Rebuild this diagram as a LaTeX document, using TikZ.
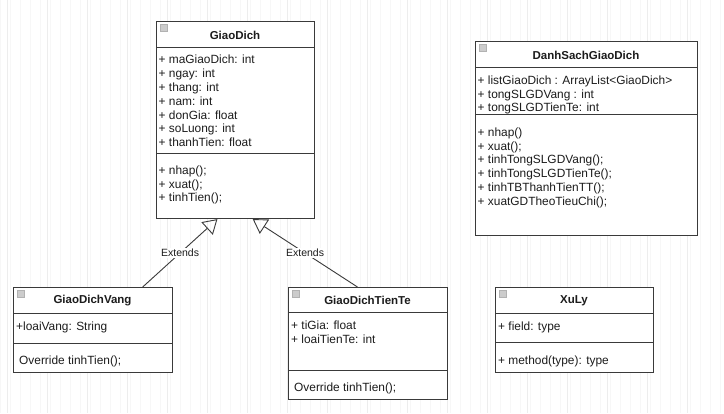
\documentclass[tikz,border=0pt]{standalone}
\usepackage{fontspec}
\setmainfont{Liberation Sans}
\usetikzlibrary{arrows.meta,calc}
\definecolor{umlline}{HTML}{3A3A3A}
\definecolor{umltext}{HTML}{1C1C1C}
\begin{document}
\begin{tikzpicture}[x=1pt,y=-1pt,
  classbox/.style={draw=umlline, line width=1.1pt, fill=white, inner sep=0pt, anchor=north west},
  sepline/.style={draw=umlline, line width=1pt},
  classtitle/.style={font=\bfseries\fontsize{11.5}{13.9}\selectfont, text=umltext, inner sep=0pt},
  members/.style={font=\fontsize{11.9}{13.8}\selectfont, text=umltext, align=left, inner sep=0pt, anchor=north west},
  icon/.style={fill=gray!40, draw=gray!60, line width=0.4pt},
  extends/.style={draw=umlline, line width=0.9pt, -{Triangle[open, length=14pt, width=17pt]}},
  extlabel/.style={font=\fontsize{10.5}{12}\selectfont, text=umltext, fill=white, inner sep=1pt}]
\useasboundingbox (0,0) rectangle (724,413);
\fill[white] (0,0) rectangle (724,413);
\draw[gray!6, step=10] (0,0) grid (724,413);
\draw[gray!14, xshift=7pt, step=40] (-7,0) grid (717,413);

% GiaoDich
\node[classbox, minimum width=158pt, minimum height=197pt] (giaoDich) at (156,21) {};
\draw[icon] (160.5,24.5) rectangle (167.5,31.5);
\node[classtitle] (giaoDichTitle) at (235,35) {GiaoDich};
\draw[sepline] (156,47) -- (314,47);
\node[members] (giaoDichAttr) at (158.5,55) {+ maGiaoDich: int\\+ ngay: int\\+ thang: int\\+ nam: int\\+ donGia: float\\+ soLuong: int\\+ thanhTien: float};
\draw[sepline] (156,153) -- (314,153);
\node[members] (giaoDichOps) at (158.5,165.5) {+ nhap();\\+ xuat();\\+ tinhTien();};

% DanhSachGiaoDich
\node[classbox, minimum width=222pt, minimum height=194pt] (danhSach) at (475,41) {};
\draw[icon] (479.5,44.5) rectangle (486.5,51.5);
\node[classtitle] (danhSachTitle) at (586,55) {DanhSachGiaoDich};
\draw[sepline] (475,67) -- (697,67);
\node[members] (danhSachAttr) at (477.5,75.5) {+ listGiaoDich : ArrayList<GiaoDich>\\+ tongSLGDVang : int\\+ tongSLGDTienTe: int};
\draw[sepline] (475,114) -- (697,114);
\node[members] (danhSachOps) at (477.5,127.5) {+ nhap()\\+ xuat();\\+ tinhTongSLGDVang();\\+ tinhTongSLGDTienTe();\\+ tinhTBThanhTienTT();\\+ xuatGDTheoTieuChi();};

% GiaoDichVang
\node[classbox, minimum width=159pt, minimum height=85pt] (gdVang) at (13,287) {};
\draw[icon] (17.5,290.5) rectangle (24.5,297.5);
\node[classtitle] (gdVangTitle) at (92.5,300.7) {GiaoDichVang};
\draw[sepline] (13,313) -- (172,313);
\node[members] (gdVangAttr) at (16,322) {+loaiVang: String};
\draw[sepline] (13,343) -- (172,343);
\node[members] (gdVangOps) at (19,355.5) {Override tinhTien();};

% GiaoDichTienTe
\node[classbox, minimum width=159pt, minimum height=112pt] (gdTienTe) at (288,287) {};
\draw[icon] (292.5,290.5) rectangle (299.5,297.5);
\node[classtitle] (gdTienTeTitle) at (367.5,300.7) {GiaoDichTienTe};
\draw[sepline] (288,312) -- (447,312);
\node[members] (gdTienTeAttr) at (291,321) {+ tiGia: float\\+ loaiTienTe: int};
\draw[sepline] (288,370) -- (447,370);
\node[members] (gdTienTeOps) at (294,383) {Override tinhTien();};

% XuLy
\node[classbox, minimum width=158pt, minimum height=85pt] (xuLy) at (495,287) {};
\draw[icon] (499.5,290.5) rectangle (506.5,297.5);
\node[classtitle] (xuLyTitle) at (574,300.7) {XuLy};
\draw[sepline] (495,313) -- (653,313);
\node[members] (xuLyAttr) at (498,322) {+ field: type};
\draw[sepline] (495,342) -- (653,342);
\node[members] (xuLyOps) at (498,355.5) {+ method(type): type};

% Extends
\draw[extends] ($(gdVang.north west)!0.81!(gdVang.north east)$) -- node[extlabel] (ext1) {Extends} ($(giaoDich.south west)!0.386!(giaoDich.south east)$);
\draw[extends] ($(gdTienTe.north west)!0.434!(gdTienTe.north east)$) -- node[extlabel] (ext2) {Extends} ($(giaoDich.south west)!0.608!(giaoDich.south east)$);
\end{tikzpicture}
\end{document}
